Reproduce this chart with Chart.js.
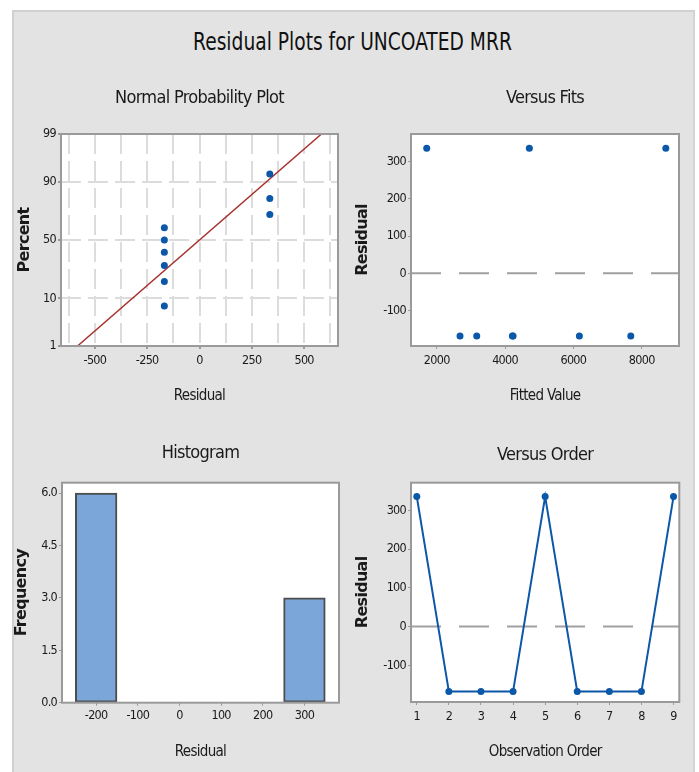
<!DOCTYPE html>
<html>
<head>
<meta charset="utf-8">
<title>Residual Plots for UNCOATED MRR</title>
<script src="https://cdn.jsdelivr.net/npm/chart.js@4.4.1/dist/chart.umd.min.js"></script>
<style>
    body { margin: 0; background: #fff; width: 699px; height: 772px; position: relative; overflow: hidden; }
    #frame { position: absolute; left: 12px; top: 10px; width: 683px; height: 762px; background: #e3e3e3;
             border-left: 2px solid #d0d0d0; border-top: 2px solid #d0d0d0; border-right: 2px solid #d4d4d4; box-sizing: border-box; }
    #mainTitle { position: absolute; left: 12px; width: 681px; top: 27px; line-height: 30px; text-align: center;
                 font-family: 'DejaVu Sans Condensed', 'Liberation Sans Narrow', sans-serif; font-size: 25px; color: #111;
                 transform: scaleX(0.83); }
    canvas { position: absolute; }
</style>
</head>
<body>
<div id="frame"></div>
<div id="mainTitle">Residual Plots for UNCOATED MRR</div>
<canvas id="probChart" width="336" height="330" style="left:12px;top:80px"></canvas>
<canvas id="fitsChart" width="345" height="330" style="left:348px;top:80px"></canvas>
<canvas id="histChart" width="336" height="342" style="left:12px;top:430px"></canvas>
<canvas id="orderChart" width="345" height="342" style="left:348px;top:430px"></canvas>
<script>
// normal probability plot
const probTickLabels = [1, 10, 50, 90, 99];
const probResidualTicks = [-500, -250, 0, 250, 500];
const probResidual = [-168, -168, -168, -168, -168, -168, 336, 336, 336];
const probPercent = [7.4, 18.1, 28.7, 39.4, 50, 60.6, 71.3, 81.9, 92.6];
const fitLineResidual = [-583, 583];
const fitLinePercent = [1, 99];

// versus fits / versus order
const observationOrder = [1, 2, 3, 4, 5, 6, 7, 8, 9];
const fittedValues = [1707, 2682, 3171, 4215, 4712, 4235, 6176, 7681, 8706];
const residuals = [336, -168, -168, -168, 336, -168, -168, -168, 336];
const fitsTicks = [2000, 4000, 6000, 8000];
const residualTicks = [-100, 0, 100, 200, 300];

// histogram
const histBins = [-200, -100, 0, 100, 200, 300];
const histCounts = [6, 0, 0, 0, 0, 3];
const histTicks = [0, 1.5, 3, 4.5, 6];

const NARROW = "'DejaVu Sans Condensed', 'Liberation Sans Narrow', sans-serif";
const BLUE = '#0b57a8';
const TEXT = '#1a1a1a';
const AXIS_GRAY = '#9a9a9a';

// inverse normal cdf (Acklam), used for the probability axis
function qnorm(p) {
    const a = [-3.969683028665376e+01, 2.209460984245205e+02, -2.759285104469687e+02, 1.383577518672690e+02, -3.066479806614716e+01, 2.506628277459239e+00];
    const b = [-5.447609879822406e+01, 1.615858368580409e+02, -1.556989798598866e+02, 6.680131188771972e+01, -1.328068155288572e+01];
    const c = [-7.784894002430293e-03, -3.223964580411365e-01, -2.400758277161838e+00, -2.549732539343734e+00, 4.374664141464968e+00, 2.938163982698783e+00];
    const d = [7.784695709041462e-03, 3.224671290700398e-01, 2.445134137142996e+00, 3.754408661907416e+00];
    const lo = 0.02425;
    let q, r;
    if (p < lo) {
        q = Math.sqrt(-2 * Math.log(p));
        return (((((c[0]*q+c[1])*q+c[2])*q+c[3])*q+c[4])*q+c[5]) / ((((d[0]*q+d[1])*q+d[2])*q+d[3])*q+1);
    }
    if (p > 1 - lo) {
        q = Math.sqrt(-2 * Math.log(1 - p));
        return -(((((c[0]*q+c[1])*q+c[2])*q+c[3])*q+c[4])*q+c[5]) / ((((d[0]*q+d[1])*q+d[2])*q+d[3])*q+1);
    }
    q = p - 0.5; r = q * q;
    return (((((a[0]*r+a[1])*r+a[2])*r+a[3])*r+a[4])*r+a[5])*q / (((((b[0]*r+b[1])*r+b[2])*r+b[3])*r+b[4])*r+1);
}

// white plot area + gray frame, and tighter text like the Minitab look
const plotFrame = {
    id: 'plotFrame',
    beforeDraw(chart) {
        const a = chart.chartArea, ctx = chart.ctx;
        ctx.letterSpacing = '-0.7px';
        ctx.save();
        ctx.fillStyle = '#fff';
        ctx.fillRect(a.left, a.top, a.width, a.height);
        ctx.restore();
    },
    afterDraw(chart) {
        const a = chart.chartArea, ctx = chart.ctx;
        ctx.save();
        ctx.strokeStyle = AXIS_GRAY;
        ctx.lineWidth = 2;
        ctx.strokeRect(a.left, a.top, a.width, a.height);
        ctx.restore();
    }
};

function panelTitle(text, top, bottom) {
    return { display: true, fullSize: false, text: text, color: TEXT,
             font: { family: NARROW, size: 18, weight: 'normal' }, padding: { top: top, bottom: bottom } };
}
function xTitle(text, pb) {
    return { display: true, text: text, color: TEXT, font: { family: NARROW, size: 15 }, padding: { top: 0, bottom: pb } };
}
function yTitle(text, pt) {
    return { display: true, text: text, color: TEXT, font: { family: 'DejaVu Sans', size: 16, weight: 'bold' }, padding: { top: pt, bottom: 0 } };
}
function fixedTicks(values) {
    return s => { s.ticks = values.map(v => ({ value: v })); };
}
const tickFont = { family: NARROW, size: 12.5 };
const tickBase = { color: TEXT, font: tickFont, maxRotation: 0, minRotation: 0, autoSkip: false, callback: v => String(v) };
const plainGrid = { drawOnChartArea: false, drawTicks: true, tickLength: 3, color: AXIS_GRAY };
const baseOptions = {
    responsive: false,
    animation: false,
    events: [],
    plugins: { legend: { display: false }, tooltip: { enabled: false } }
};

// 1. normal probability plot
new Chart(document.getElementById('probChart'), {
    type: 'scatter',
    data: {
        datasets: [{
            data: probResidual.map((r, i) => ({ x: r, y: qnorm(probPercent[i] / 100) })),
            pointRadius: 3.5, pointBackgroundColor: BLUE, pointBorderWidth: 0, order: 1
        }, {
            data: fitLineResidual.map((r, i) => ({ x: r, y: qnorm(fitLinePercent[i] / 100) })),
            showLine: true, borderColor: '#a8322d', borderWidth: 1.5, pointRadius: 0, order: 2
        }]
    },
    options: {
        ...baseOptions,
        layout: { padding: { right: 10 } },
        plugins: { ...baseOptions.plugins, title: panelTitle('Normal Probability Plot', 7.2, 25.2) },
        scales: {
            x: {
                min: -662, max: 662,
                afterFit: s => { s.height = 64; },
                ticks: { ...tickBase, stepSize: 125, includeBounds: false, padding: 4,
                         callback: v => (probResidualTicks.includes(v) ? String(v) : '') },
                grid: { color: '#dcdcdc', lineWidth: 2, tickLength: 3,
                        tickColor: c => (c.tick && probResidualTicks.includes(c.tick.value) ? AXIS_GRAY : 'rgba(0,0,0,0)') },
                border: { display: false, dash: [20, 7] },
                title: xTitle('Residual', 4.4)
            },
            y: {
                min: qnorm(0.01), max: qnorm(0.99),
                afterBuildTicks: fixedTicks(probTickLabels.map(p => qnorm(p / 100))),
                afterFit: s => { s.width = 49; },
                ticks: { ...tickBase, padding: 2, callback: (v, i) => String(probTickLabels[i]) },
                grid: { color: c => (c.index === 0 || c.index === probTickLabels.length - 1 ? 'rgba(0,0,0,0)' : '#dcdcdc'),
                        lineWidth: 2, tickLength: 3, tickColor: AXIS_GRAY },
                border: { display: false, dash: [20, 7] },
                title: yTitle('Percent', 3)
            }
        }
    },
    plugins: [plotFrame]
});

// zero reference line shared by the residual plots
function zeroLine(xMin, xMax) {
    return {
        data: [{ x: xMin, y: 0 }, { x: xMax, y: 0 }],
        showLine: true, borderColor: '#a0a0a0', borderWidth: 2, borderDash: [30, 18], pointRadius: 0, order: 3
    };
}

// 2. versus fits
const fitsMin = 1247, fitsMax = 9092;
new Chart(document.getElementById('fitsChart'), {
    type: 'scatter',
    data: {
        datasets: [{
            data: fittedValues.map((f, i) => ({ x: f, y: residuals[i] })),
            pointRadius: 3.5, pointBackgroundColor: BLUE, pointBorderWidth: 0, order: 1
        }, zeroLine(fitsMin, fitsMax)]
    },
    options: {
        ...baseOptions,
        layout: { padding: { right: 14 } },
        plugins: { ...baseOptions.plugins, title: panelTitle('Versus Fits', 7.2, 25.2) },
        scales: {
            x: {
                min: fitsMin, max: fitsMax,
                afterBuildTicks: fixedTicks(fitsTicks),
                afterFit: s => { s.height = 64; },
                ticks: { ...tickBase, padding: 4 },
                grid: plainGrid, border: { display: false },
                title: xTitle('Fitted Value', 4.4)
            },
            y: {
                min: -195, max: 374,
                afterBuildTicks: fixedTicks(residualTicks),
                afterFit: s => { s.width = 63; },
                ticks: { ...tickBase, padding: 2 },
                grid: plainGrid, border: { display: false },
                title: yTitle('Residual', 5)
            }
        }
    },
    plugins: [plotFrame]
});

// 3. histogram
new Chart(document.getElementById('histChart'), {
    type: 'bar',
    data: {
        datasets: [{
            data: histBins.map((b, i) => ({ x: b, y: histCounts[i] })),
            backgroundColor: '#7ba6da', borderColor: '#4d4d4d', borderWidth: 2, borderSkipped: false,
            barPercentage: 1, categoryPercentage: 1
        }]
    },
    options: {
        ...baseOptions,
        layout: { padding: { right: 9 } },
        plugins: { ...baseOptions.plugins, title: panelTitle('Histogram', 12.2, 18.9) },
        scales: {
            x: {
                type: 'linear', min: -282, max: 383, offset: false,
                afterBuildTicks: fixedTicks(histBins),
                afterFit: s => { s.height = 69.3; },
                ticks: { ...tickBase, padding: 3 },
                grid: { ...plainGrid, offset: false }, border: { display: false },
                title: xTitle('Residual', 10.4)
            },
            y: {
                min: 0, max: 6.3,
                afterBuildTicks: fixedTicks(histTicks),
                afterFit: s => { s.width = 50; },
                ticks: { ...tickBase, padding: 2, callback: v => v.toFixed(1) },
                grid: plainGrid, border: { display: false },
                title: yTitle('Frequency', 0)
            }
        }
    },
    plugins: [plotFrame]
});

// 4. versus order
const orderMin = 0.82, orderMax = 9.18;
new Chart(document.getElementById('orderChart'), {
    type: 'scatter',
    data: {
        datasets: [{
            data: observationOrder.map((o, i) => ({ x: o, y: residuals[i] })),
            showLine: true, borderColor: BLUE, borderWidth: 2,
            pointRadius: 3.5, pointBackgroundColor: BLUE, pointBorderWidth: 0, order: 1
        }, zeroLine(orderMin, orderMax)]
    },
    options: {
        ...baseOptions,
        layout: { padding: { right: 13.7 } },
        plugins: { ...baseOptions.plugins, title: panelTitle('Versus Order', 14.2, 16.9) },
        scales: {
            x: {
                min: orderMin, max: orderMax,
                afterBuildTicks: fixedTicks(observationOrder),
                afterFit: s => { s.height = 70; },
                ticks: { ...tickBase, padding: 4 },
                grid: plainGrid, border: { display: false },
                title: xTitle('Observation Order', 10.4)
            },
            y: {
                min: -195, max: 372,
                afterBuildTicks: fixedTicks(residualTicks),
                afterFit: s => { s.width = 63; },
                ticks: { ...tickBase, padding: 2 },
                grid: plainGrid, border: { display: false },
                title: yTitle('Residual', 5)
            }
        }
    },
    plugins: [plotFrame]
});
</script>
</body>
</html>
